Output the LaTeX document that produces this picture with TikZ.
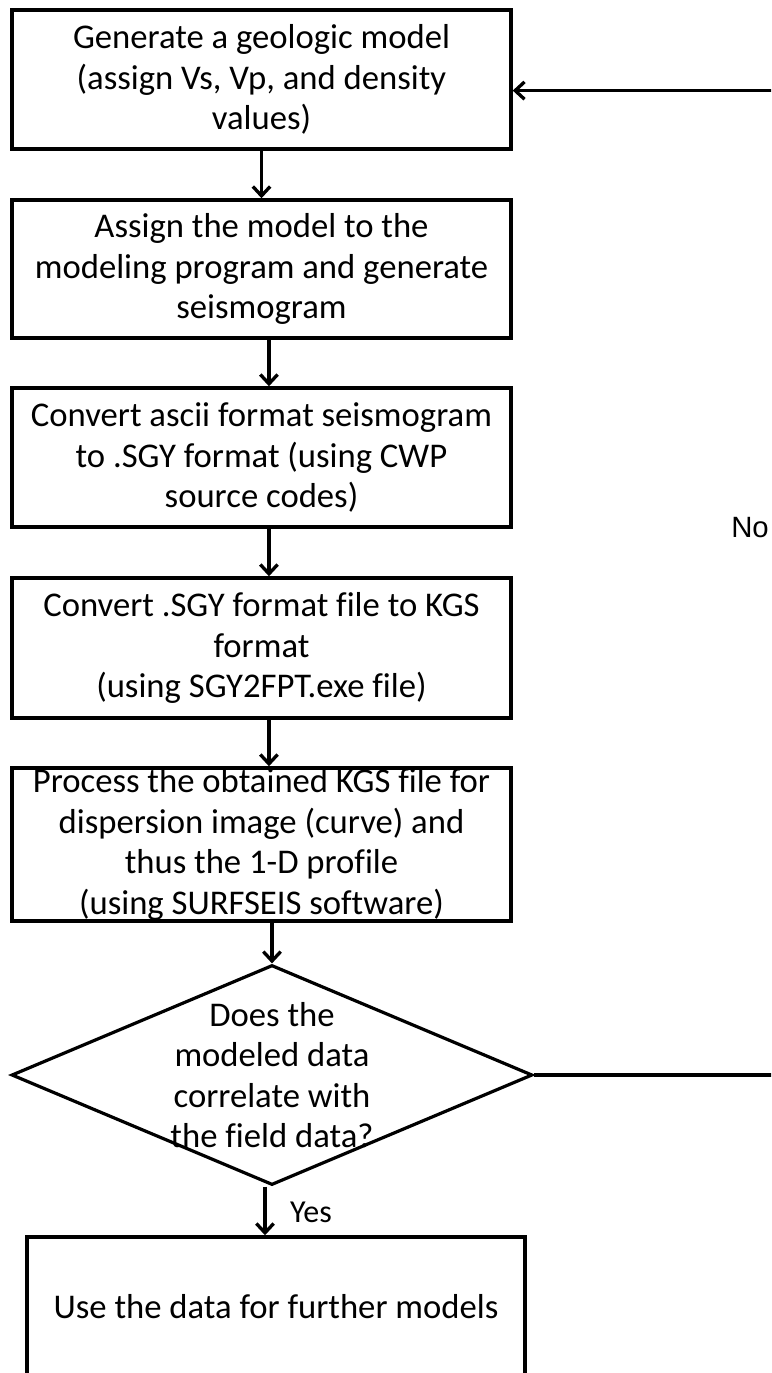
\documentclass[tikz,border=0pt]{standalone}
\usepackage{fontspec}
\setmainfont[Ligatures=NoCommon]{Carlito}
\newfontfamily\arialfont{Liberation Sans}
\usetikzlibrary{arrows.meta,shapes.geometric}

\begin{document}
\begin{tikzpicture}[x=0.75pt, y=-0.75pt,
  stepbox/.style={draw, line width=2.6pt, minimum width=374.25pt,
    minimum height=104.25pt, inner sep=0pt, align=center,
    font=\fontsize{26}{30.4}\selectfont},
  decision/.style={draw, diamond, line width=2.4pt,
    minimum width=390.75pt, minimum height=165pt, inner sep=0pt},
  arr/.style={-{Straight Barb[length=7pt, width=13pt]}, line width=2.5pt}]
\useasboundingbox (0,0) rectangle (771,1373);
\clip (0,0) rectangle (771,1373);
% Steps
\node[stepbox] (gen) at (261.5,79.5) {Generate a geologic model\\(assign Vs, Vp, and density\\values)};
\node[stepbox, minimum height=103.5pt] (assign) at (261.5,269) {Assign the model to the\\modeling program and generate\\seismogram};
\node[stepbox] (ascii) at (261.5,457.5) {Convert ascii format seismogram\\to .SGY format (using CWP\\source codes)};
\node[stepbox, minimum height=105pt] (kgs) at (261.5,648) {Convert .SGY format file to KGS\\format\\(using SGY2FPT.exe file)};
\node[stepbox, minimum height=114.75pt] (proc) at (261.5,844.5) {Process the obtained KGS file for\\dispersion image (curve) and\\thus the 1-D profile\\(using SURFSEIS software)};
% Decision
\node[decision] (dec) at (272,1075) {};
\node[align=center, inner sep=0pt, font=\fontsize{26}{30.4}\selectfont] (q) at (dec) {Does the\\modeled data\\correlate with\\the field data?};
% Result
\node[stepbox, minimum width=373.5pt, minimum height=105pt] (use) at (276,1307) {Use the data for further models};
% Flow
\draw[arr] (gen) -- (assign);
\draw[arr] ([xshift=5.6pt]assign.south) -- ([xshift=5.6pt]ascii.north);
\draw[arr] ([xshift=5.6pt]ascii.south) -- ([xshift=5.6pt]kgs.north);
\draw[arr] ([xshift=5.6pt]kgs.south) -- ([xshift=5.6pt]proc.north);
\draw[arr] (proc.south -| dec.north) -- (dec.north);
\draw[arr] ([xshift=-5.25pt]dec.south) -- ([xshift=-5.25pt]dec.south |- use.north);
\node[font=\fontsize{24}{28}\selectfont] (yes) at (311,1212) {Yes};
% Loop back
\draw[arr] (dec.east) -- ++(290,0) |- ([yshift=-8.3pt]gen.east);
\node[font=\arialfont\fontsize{22}{26}\selectfont] (no) at (750,528) {No};
\end{tikzpicture}
\end{document}
